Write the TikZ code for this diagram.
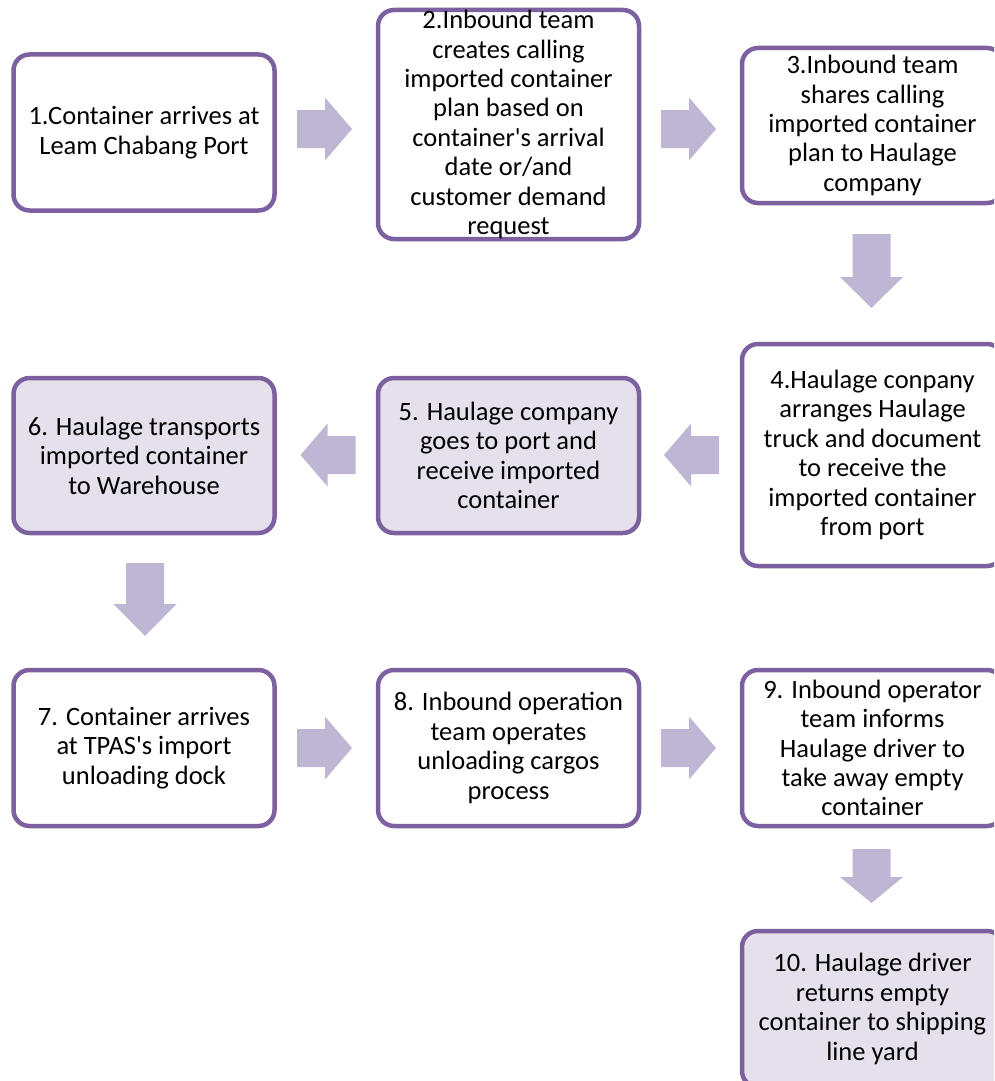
\documentclass[tikz,border=0pt]{standalone}
\usepackage{fontspec}
\setmainfont{Carlito}

\definecolor{boxline}{RGB}{125,96,160}
\definecolor{boxfill}{RGB}{229,224,236}
\definecolor{arrowfill}{RGB}{191,182,212}

\tikzset{
  stepbox/.style={draw=boxline, line width=4.5pt, rounded corners=16pt,
    fill=white, minimum width=261pt, minimum height=156pt, inner sep=0pt,
    align=center, text=black, font=\fontsize{26.5}{29.4}\selectfont},
  shaded/.style={fill=boxfill},
  % block arrow: #1 = total length, #2 = head length; points along +x
  pics/flowarrow/.style n args={2}{code={
    \fill[arrowfill] (-#1/2,-19) -- (#1/2-#2,-19) -- (#1/2-#2,-31.5)
      -- (#1/2,0) -- (#1/2-#2,31.5) -- (#1/2-#2,19) -- (-#1/2,19) -- cycle;
  }},
}

\begin{document}
\begin{tikzpicture}[x=1pt, y=-1pt]
\useasboundingbox (0,0) rectangle (994,1081);
\clip (0,0) rectangle (994,1081);

% process steps
\node[stepbox] (b1) at (144,132.5) {1.Container arrives at\\Leam Chabang Port};
\node[stepbox, minimum height=229pt] (b2) at (508.5,124.5)
  {2.Inbound team\\creates calling\\imported container\\plan based on\\container\textquotesingle s arrival\\date or/and\\customer demand\\request};
\node[stepbox, minimum height=155pt] (b3) at (872.5,125.5)
  {3.Inbound team\\shares calling\\imported container\\plan to Haulage\\company};
\node[stepbox, minimum height=222pt] (b4) at (872.5,455)
  {4.Haulage conpany\\arranges Haulage\\truck and document\\to receive the\\imported container\\from port};
\node[stepbox, shaded, minimum height=155pt] (b5) at (508.5,455.5)
  {5. Haulage company\\goes to port and\\receive imported\\container};
\node[stepbox, shaded, minimum height=155pt] (b6) at (144,455.5)
  {6. Haulage transports\\imported container\\to Warehouse};
\node[stepbox] (b7) at (144,748) {7. Container arrives\\at TPAS\textquotesingle s import\\unloading dock};
\node[stepbox] (b8) at (508.5,748) {8. Inbound operation\\team operates\\unloading cargos\\process};
\node[stepbox] (b9) at (872.5,748) {9. Inbound operator\\team informs\\Haulage driver to\\take away empty\\container};
\node[stepbox, shaded] (b10) at (872.5,1009) {10. Haulage driver\\returns empty\\container to shipping\\line yard};

% block arrows between steps
\pic (a12) at (324.5,129) {flowarrow={55}{27}};
\pic (a23) at (688.5,129) {flowarrow={55}{27}};
\pic[rotate=-90] (a34) at (871.5,271) {flowarrow={74}{31}};
\pic[rotate=180] (a45) at (691.5,455) {flowarrow={55}{27}};
\pic[rotate=180] (a56) at (328,455) {flowarrow={55}{27}};
\pic[rotate=-90] (a67) at (145,599.5) {flowarrow={73}{32}};
\pic (a78) at (324.5,748) {flowarrow={55}{27}};
\pic (a89) at (688.5,748) {flowarrow={55}{27}};
\pic[rotate=-90] (a910) at (871.5,876) {flowarrow={54}{26}};
\end{tikzpicture}
\end{document}
